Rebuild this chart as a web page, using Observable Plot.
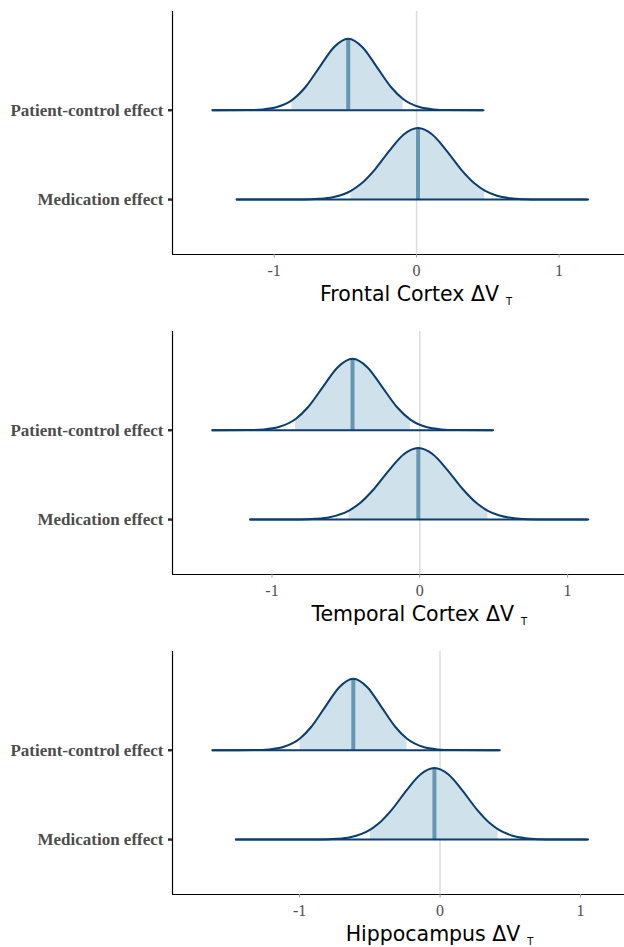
<!DOCTYPE html>
<html><head><meta charset="utf-8">
<script src="https://cdn.jsdelivr.net/npm/d3@7"></script>
<script src="https://cdn.jsdelivr.net/npm/@observablehq/plot@0.6"></script>
<style>
body{margin:0;background:#fff;width:624px;height:947px;overflow:hidden;}
.panel{position:relative;width:624px;height:320px;}
.panel svg{display:block;}
.xlabel{position:absolute;top:284px;font-family:"DejaVu Sans";font-size:20.5px;line-height:20.5px;color:#000;white-space:nowrap;transform:translateX(-50%);}
.xlabel .sub{font-size:10px;position:relative;top:4px;margin-left:7px;}
</style></head><body><div id="chart"></div>
<script>
// y rows: 1 = Medication effect, 2 = Patient-control effect
const categories = ["Medication effect", "Patient-control effect"];
const regionNames = ["Frontal Cortex", "Temporal Cortex", "Hippocampus"];
const xTicks = [-1, 0, 1];

// density samples: [x, density relative to peak]
const frontalMedication = [[-1.264,0],[-0.79,0.002],[-0.69,0.01],[-0.59,0.033],[-0.461,0.123],[-0.39,0.22],[-0.29,0.427],[-0.19,0.685],[-0.09,0.91],[0.01,1],[0.11,0.91],[0.21,0.685],[0.31,0.427],[0.41,0.22],[0.479,0.125],[0.56,0.057],[0.66,0.018],[0.76,0.005],[0.86,0.001],[1.205,0]];
const frontalPatient = [[-1.434,0],[-1.18,0.002],[-1.08,0.011],[-0.98,0.044],[-0.875,0.142],[-0.78,0.325],[-0.68,0.607],[-0.58,0.882],[-0.48,1],[-0.38,0.882],[-0.28,0.607],[-0.18,0.325],[-0.095,0.157],[0.02,0.044],[0.12,0.011],[0.22,0.002],[0.47,0]];
const temporalMedication = [[-1.148,0],[-0.81,0.002],[-0.71,0.01],[-0.61,0.033],[-0.479,0.125],[-0.41,0.22],[-0.31,0.427],[-0.21,0.685],[-0.11,0.91],[-0.01,1],[0.09,0.91],[0.19,0.685],[0.29,0.427],[0.39,0.22],[0.461,0.123],[0.54,0.057],[0.64,0.018],[0.74,0.005],[0.84,0.001],[1.14,0]];
const temporalPatient = [[-1.404,0],[-1.155,0.002],[-1.055,0.011],[-0.955,0.044],[-0.84,0.157],[-0.755,0.325],[-0.655,0.607],[-0.555,0.882],[-0.455,1],[-0.355,0.882],[-0.255,0.607],[-0.155,0.325],[-0.064,0.148],[0.045,0.044],[0.145,0.011],[0.245,0.002],[0.496,0]];
const hippocampusMedication = [[-1.455,0],[-0.84,0.002],[-0.74,0.01],[-0.64,0.033],[-0.497,0.139],[-0.44,0.22],[-0.34,0.427],[-0.24,0.685],[-0.14,0.91],[-0.04,1],[0.06,0.91],[0.16,0.685],[0.26,0.427],[0.36,0.22],[0.414,0.142],[0.51,0.057],[0.61,0.018],[0.71,0.005],[0.81,0.001],[1.055,0]];
const hippocampusPatient = [[-1.622,0],[-1.318,0.002],[-1.218,0.011],[-1.118,0.044],[-0.996,0.168],[-0.918,0.325],[-0.818,0.607],[-0.718,0.882],[-0.618,1],[-0.518,0.882],[-0.418,0.607],[-0.318,0.325],[-0.235,0.16],[-0.118,0.044],[-0.018,0.011],[0.082,0.002],[0.426,0]];

// medians and interval bounds: [medication, patient-control]
const frontalMedian = [0.01, -0.48];
const frontalLower = [-0.461, -0.875];
const frontalUpper = [0.479, -0.095];
const temporalMedian = [-0.01, -0.455];
const temporalLower = [-0.479, -0.84];
const temporalUpper = [0.461, -0.064];
const hippocampusMedian = [-0.04, -0.618];
const hippocampusLower = [-0.497, -0.996];
const hippocampusUpper = [0.414, -0.235];

const xDomains = [[-1.714, 1.46], [-1.673, 1.385], [-1.906, 1.314]];
const yDomain = [0.385, 3.105];
const ridgeScale = 0.8;

const panels = [
  {name: regionNames[0], dens: [frontalMedication, frontalPatient], med: frontalMedian, lo: frontalLower, hi: frontalUpper, xDomain: xDomains[0]},
  {name: regionNames[1], dens: [temporalMedication, temporalPatient], med: temporalMedian, lo: temporalLower, hi: temporalUpper, xDomain: xDomains[1]},
  {name: regionNames[2], dens: [hippocampusMedication, hippocampusPatient], med: hippocampusMedian, lo: hippocampusLower, hi: hippocampusUpper, xDomain: xDomains[2]}
];

const navy = "#0b3d6e";
const root = document.getElementById("chart");

panels.forEach(p => {
  const pts = [], fillPts = [], rows = [];
  p.dens.forEach((arr, i) => {
    const base = i + 1;
    const cat = categories[i];
    arr.forEach(([x, h]) => {
      const row = {cat, x, base, top: base + ridgeScale * h};
      pts.push(row);
      if (x >= p.lo[i] - 1e-9 && x <= p.hi[i] + 1e-9) fillPts.push(row);
    });
    const hm = arr.reduce((a, b) => Math.abs(b[0] - p.med[i]) < Math.abs(a[0] - p.med[i]) ? b : a)[1];
    rows.push({cat, base, med: p.med[i], medTop: base + ridgeScale * hm, min: arr[0][0], max: arr[arr.length - 1][0]});
  });

  const plot = Plot.plot({
    width: 624, height: 282,
    marginTop: 11, marginBottom: 28, marginLeft: 172, marginRight: 0,
    x: {domain: p.xDomain},
    y: {domain: yDomain},
    style: {background: "transparent", overflow: "visible"},
    marks: [
      Plot.ruleX([0], {stroke: "#dcdcdc", strokeWidth: 1.5}),
      Plot.areaY(fillPts, {x: "x", y1: "base", y2: "top", z: "cat", fill: "#cfe1ea", curve: "monotone-x"}),
      Plot.ruleX(rows, {x: "med", y1: "base", y2: "medTop", stroke: "#6497b1", strokeWidth: 4}),
      Plot.ruleY(rows, {y: "base", x1: "min", x2: "max", stroke: navy, strokeWidth: 2}),
      Plot.line(pts, {x: "x", y: "top", z: "cat", stroke: navy, strokeWidth: 2, curve: "monotone-x"}),
      Plot.ruleY([yDomain[0]], {stroke: "#000", strokeWidth: 1.2}),
      Plot.ruleX([p.xDomain[0]], {stroke: "#000", strokeWidth: 1.2}),
      Plot.axisX(xTicks, {tickSize: 3.5, tickPadding: 7, stroke: "#999", fill: "#4d4d4d", fontFamily: "Liberation Serif", fontSize: 16, label: null, tickFormat: d => String(d)}),
      Plot.axisY([1, 2], {tickSize: 4, tickPadding: 5, stroke: "#333", strokeWidth: 2.5, fill: "#4d4d4d", fontFamily: "Liberation Serif", fontSize: 17, fontWeight: "bold", label: null, tickFormat: d => categories[d - 1]})
    ]
  });

  const block = document.createElement("div");
  block.className = "panel";
  block.appendChild(plot);
  const lab = document.createElement("div");
  lab.className = "xlabel";
  lab.style.left = (plot.scale("x").apply(0)) + "px";
  lab.innerHTML = `${p.name} ΔV<span class="sub">T</span>`;
  block.appendChild(lab);
  root.appendChild(block);
});
</script></body></html>
